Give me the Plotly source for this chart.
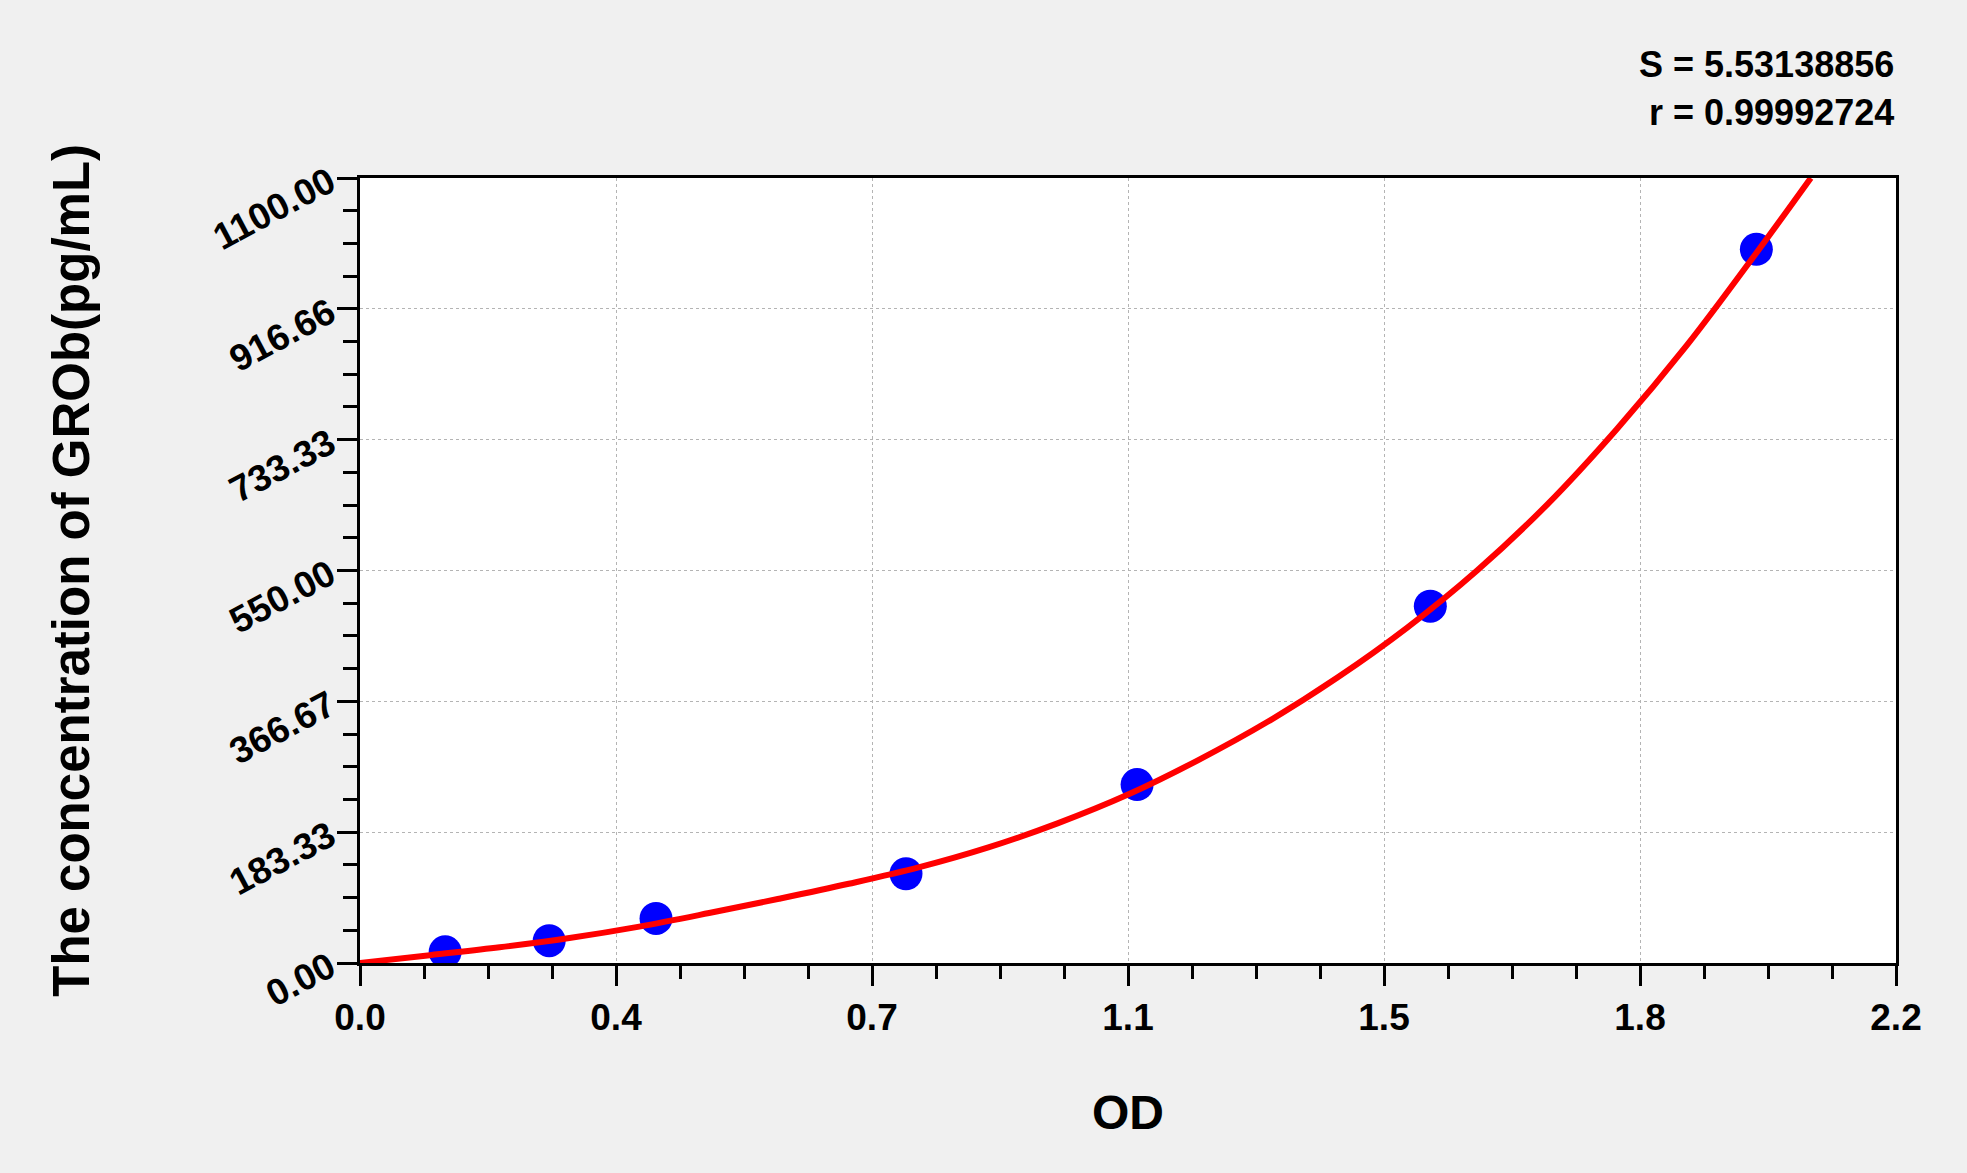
import plotly.graph_objects as go

# standards: OD vs concentration
od = [0.122, 0.271, 0.424, 0.782, 1.113, 1.533, 2.000]
conc = [15.63, 31.25, 62.5, 125, 250, 500, 1000]

# fitted curve
curve_od = [0, 0.1, 0.2, 0.3, 0.4, 0.5, 0.6, 0.7, 0.8, 0.9, 1.0, 1.1, 1.2,
            1.3, 1.4, 1.5, 1.6, 1.7, 1.8, 1.9, 2.0, 2.078]
curve_conc = [0, 11, 22, 35, 51, 70, 90, 111, 134, 162, 196, 236, 284,
              338, 400, 470, 550, 642, 748, 865, 995, 1100]

x_ticks = ["0.0", "0.4", "0.7", "1.1", "1.5", "1.8", "2.2"]
y_ticks = ["0.00", "183.33", "366.67", "550.00", "733.33", "916.66", "1100.00"]

stats = ["S = 5.53138856", "r = 0.99992724"]

FONT = "Arial, Liberation Sans, sans-serif"
xmax, ymax = 2.2, 1100

fig = go.Figure()
fig.add_trace(go.Scatter(x=od, y=conc, mode="markers",
                         marker=dict(color="#0000ff", size=33)))
fig.add_trace(go.Scatter(x=curve_od, y=curve_conc, mode="lines",
                         line=dict(color="#ff0000", width=6, shape="spline")))

axis_common = dict(
    showline=True, linecolor="black", linewidth=3, mirror=True,
    ticks="outside", ticklen=20, tickwidth=3, tickcolor="black",
    showgrid=True, gridcolor="#b4b4b4", gridwidth=1, griddash="dot",
    zeroline=False,
    tickfont=dict(family=FONT, size=37, color="black", weight="bold"),
)

fig.update_xaxes(
    range=[0, xmax],
    tickvals=[i * xmax / 6 for i in range(7)], ticktext=x_ticks,
    minor=dict(ticks="outside", ticklen=13, tickwidth=3, tickcolor="black",
               tickvals=[i * xmax / 24 for i in range(25)], showgrid=False),
    **axis_common,
)
fig.update_yaxes(
    range=[0, ymax],
    tickvals=[i * ymax / 6 for i in range(7)], ticktext=y_ticks,
    tickangle=-28,
    minor=dict(ticks="outside", ticklen=14, tickwidth=3, tickcolor="black",
               tickvals=[i * ymax / 24 for i in range(25)], showgrid=False),
    **axis_common,
)

fig.add_annotation(text="OD", xref="paper", yref="paper", x=0.5, y=-0.19,
                   showarrow=False, yanchor="middle",
                   font=dict(family=FONT, size=48, color="black", weight="bold"))
fig.add_annotation(text="The concentration of GROb(pg/mL)", xref="paper", yref="paper",
                   x=-0.188, y=0.5, textangle=-90, showarrow=False,
                   xanchor="center", yanchor="middle",
                   font=dict(family=FONT, size=51, color="black", weight="bold"))
for i, s in enumerate(stats):
    fig.add_annotation(text=s, xref="paper", yref="paper", x=1.0, y=1.145 - i * 0.061,
                       xanchor="right", yanchor="middle", showarrow=False,
                       font=dict(family=FONT, size=36, color="black", weight="bold"))

fig.update_layout(
    width=1967, height=1173,
    margin=dict(l=360, r=71, t=178, b=210),
    paper_bgcolor="#f0f0f0", plot_bgcolor="white",
    showlegend=False,
)

fig.write_html("out.html", config={"displayModeBar": False},
               post_script="document.body.style.margin='0';")
